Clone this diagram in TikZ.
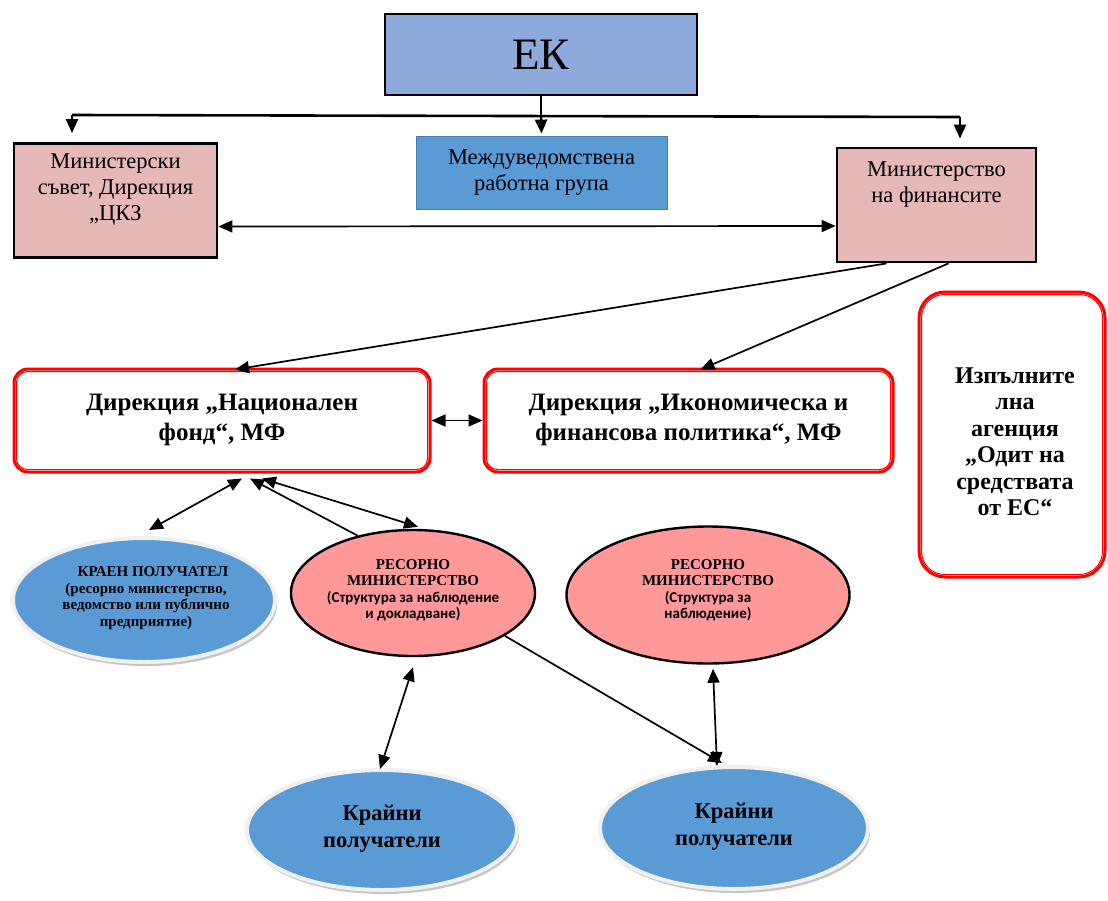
\documentclass[tikz,border=0pt]{standalone}
\usepackage{fontspec}
\setmainfont{Liberation Serif}
\newfontfamily\sansb{Carlito}
\newcommand\sansSm{\sansb\bfseries\fontsize{15}{17}\selectfont}
\usetikzlibrary{arrows.meta,shapes.geometric,shadows}
\definecolor{ekc}{HTML}{8EA9DB}
\definecolor{pinkbox}{HTML}{E6B8B7}
\definecolor{bluebox}{HTML}{5B9BD5}
\definecolor{pinkell}{HTML}{FF9999}
\definecolor{blueell}{HTML}{5B9BD5}
\begin{document}
\begin{tikzpicture}[x=1pt,y=-1pt,
  blk/.style={draw=black, line width=2.8pt, align=center, inner sep=0pt},
  toptext/.style={align=center, font=\fontsize{22.5}{26}\selectfont},
  redbox/.style={rounded corners=14pt, draw=red, line width=3pt, fill=white, inner sep=0pt},
  boldtext/.style={align=center, font=\bfseries\fontsize{25}{30}\selectfont},
  tip/.tip={Triangle[length=14pt,width=12pt]},
  arr/.style={line width=1.7pt, -tip},
  dbl/.style={line width=1.7pt, tip-tip},
  pinkel/.style={ellipse, fill=pinkell, draw=black, line width=2.4pt, inner sep=0pt, align=center},
  blueel/.style={ellipse, fill=blueell, draw=gray!12, line width=4pt, inner sep=0pt, align=center,
     drop shadow={shadow xshift=2pt, shadow yshift=-4pt, fill=gray!45, opacity=1}},
  smallb/.style={align=center, font=\bfseries\fontsize{15}{16.5}\selectfont}
]
\useasboundingbox (0,0) rectangle (1108,900);
\fill[white] (0,0) rectangle (1108,900);

% top level
\node[blk, fill=ekc, minimum width=312pt, minimum height=81pt, font=\fontsize{45}{50}\selectfont] (ek) at (541,54.5) {ЕК};
\node[blk, fill=pinkbox, minimum width=203pt, minimum height=114pt] (ms) at (115.5,200.5) {};
\node[toptext] (mst) at (115.5,190) {Министерски\\съвет, Дирекция\\„ЦКЗ};
\node[draw=bluebox!80!black, line width=0.8pt, fill=bluebox, minimum width=251pt, minimum height=73pt, toptext] (mrg) at (541.5,172.5) {Междуведомствена\\работна група};
\node[blk, fill=pinkbox, minimum width=199pt, minimum height=114pt] (mf) at (936.5,205) {};
\node[toptext] (mft) at (936.5,185) {Министерство\\на финансите};

% bus from EK
\coordinate (busL) at (72,115);
\coordinate (busR) at (960,117);
\draw[line width=2.6pt] (ek.south) -- (ek.south |- busL);
\draw[line width=2.6pt] (busL) -- (busR);
\draw[arr, line width=2.4pt, shorten >=9pt] (busL) -- (ms.north -| busL);
\draw[arr, line width=2.4pt, shorten >=2pt] (ek.south |- busL) -- (mrg.north);
\draw[arr, line width=2.4pt, shorten >=8pt] (busR) -- (mf.north -| busR);
\draw[dbl] ([yshift=-26pt]ms.east) -- ([yshift=-21pt]mf.west);

% directorates
\node[redbox, minimum width=416pt, minimum height=103pt] (nf) at (222,420.5) {};
\node[boldtext] (nft) at (222,420) {Дирекция „Национален\\фонд“, МФ};
\node[redbox, minimum width=409pt, minimum height=103pt] (ip) at (688.5,420.5) {};
\node[boldtext] (ipt) at (688.5,420) {Дирекция „Икономическа и\\финансова политика“, МФ};
\node[redbox, rounded corners=26pt, minimum width=186pt, minimum height=285pt] (ia) at (1012,434.5) {};
\node[align=center, font=\bfseries\fontsize{24}{26.5}\selectfont] (iat) at (1015,442) {Изпълните\\лна\\агенция\\„Одит на\\средствата\\от ЕС“};
\foreach \n/\r in {nf/11,ip/11,ia/23}
  \draw[red, line width=1pt, rounded corners=\r pt] ([xshift=4pt,yshift=-4pt]\n.north west) rectangle ([xshift=-4pt,yshift=4pt]\n.south east);

\draw[arr] ([xshift=-50pt]mf.south) -- ([xshift=13pt,yshift=-2pt]nf.north);
\draw[arr] ([xshift=12pt]mf.south) -- ([xshift=12pt,yshift=-2pt]ip.north);
\draw[dbl] (nf.east) -- (ip.west);

% ellipses
\node[blueel, minimum width=262pt, minimum height=124pt] (kp) at (144,600) {};
\node[smallb] (kpt) at (146,598) {\hspace*{14pt}КРАЕН ПОЛУЧАТЕЛ\\(ресорно министерство,\\ведомство или публично\\предприятие)};
\node[pinkel, minimum width=244pt, minimum height=126pt] (rm1) at (413,593) {};
\node[smallb] (rm1t) at (413,590) {РЕСОРНО\\МИНИСТЕРСТВО\\{\sansSm (Структура за наблюдение}\\{\sansSm и докладване)}};
\node[pinkel, minimum width=283pt, minimum height=137pt] (rm2) at (708,595) {};
\node[smallb] (rm2t) at (708,590) {РЕСОРНО\\МИНИСТЕРСТВО\\{\sansSm (Структура за}\\{\sansSm наблюдение)}};
\node[blueel, minimum width=270pt, minimum height=120pt] (kr1) at (382,830) {};
\node[align=center, font=\bfseries\fontsize{22.5}{27}\selectfont] (kr1t) at (382,829) {Крайни\\получатели};
\node[blueel, minimum width=268pt, minimum height=122pt] (kr2) at (734,828) {};
\node[align=center, font=\bfseries\fontsize{22.5}{27}\selectfont] (kr2t) at (734,827) {Крайни\\получатели};

% connectors
\draw[dbl] ([xshift=5pt,yshift=6pt]kp.north) -- ([xshift=20pt,yshift=-5pt]nf.south);
\draw[arr] (rm1.134) -- ([xshift=28pt,yshift=-5pt]nf.south);
\draw[dbl] ([xshift=40pt,yshift=-5pt]nf.south) -- ([xshift=5pt,yshift=2pt]rm1.north);
\draw[dbl] ([yshift=-10pt]rm1.south) -- ([xshift=-2pt,yshift=-1pt]kr1.north);
\draw[arr] (rm1.-25) -- ([xshift=-12pt,yshift=2pt]kr2.north);
\draw[dbl] ([xshift=5pt,yshift=-4pt]rm2.south) -- ([xshift=-17pt,yshift=-1pt]kr2.north);
\end{tikzpicture}
\end{document}
